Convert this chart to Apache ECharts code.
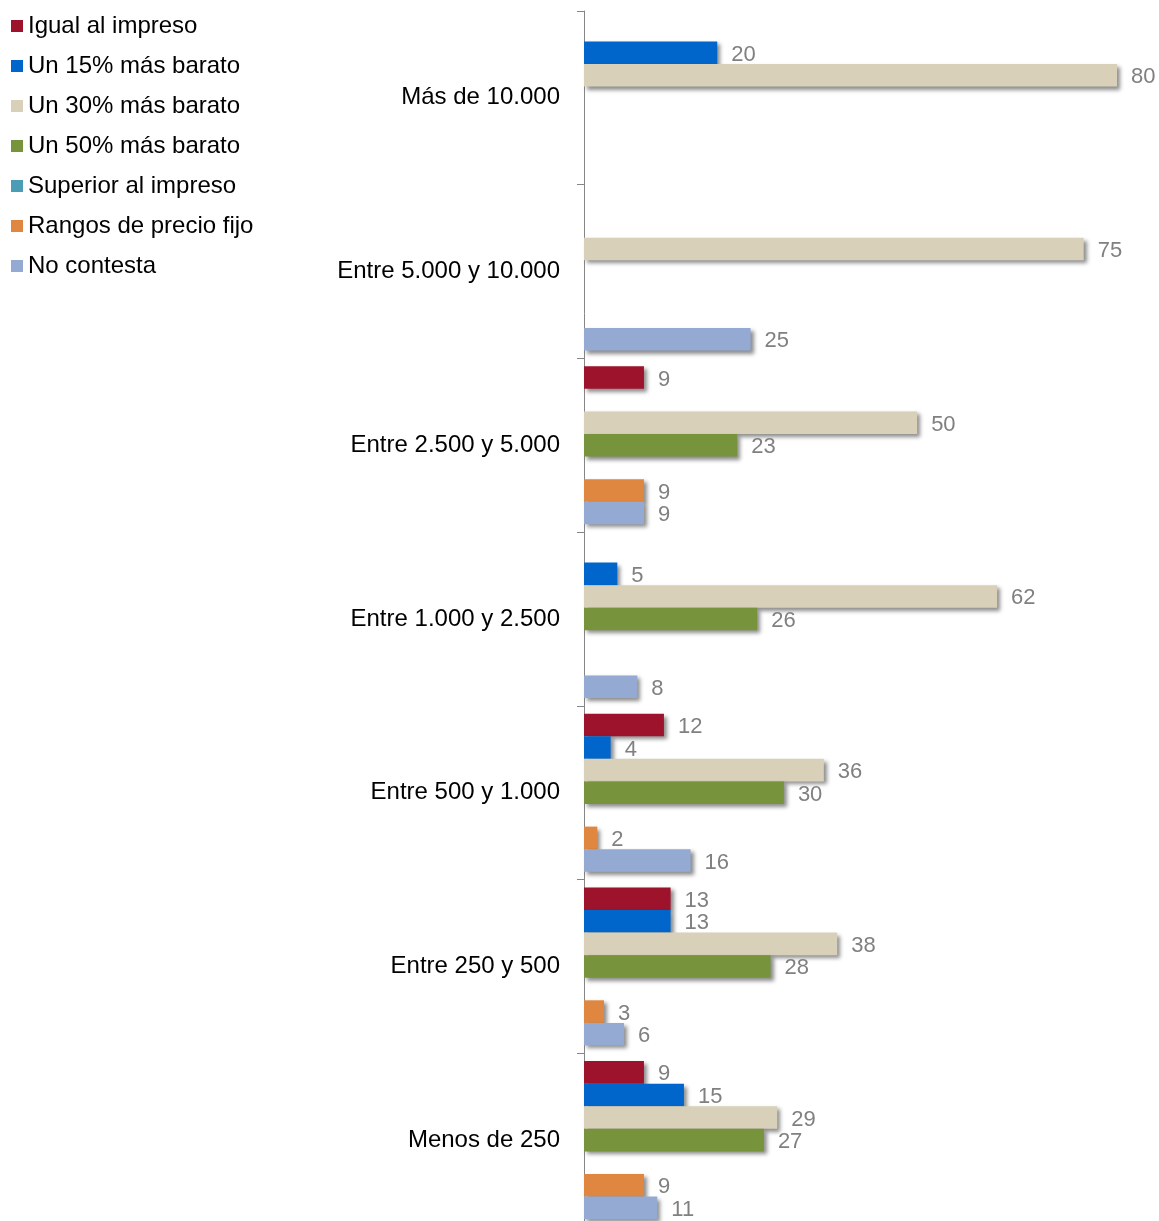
<!DOCTYPE html>
<html>
<head>
<meta charset="utf-8">
<script src="https://cdn.jsdelivr.net/npm/echarts@6/dist/echarts.min.js"></script>
<style>
  html, body { margin: 0; padding: 0; background: #fff; }
  #main { width: 1159px; height: 1221px; }
</style>
</head>
<body>
<div id="main"></div>
<script>
var categories = ['Más de 10.000', 'Entre 5.000 y 10.000', 'Entre 2.500 y 5.000', 'Entre 1.000 y 2.500', 'Entre 500 y 1.000', 'Entre 250 y 500', 'Menos de 250'];
var seriesNames = ['Igual al impreso', 'Un 15% más barato', 'Un 30% más barato', 'Un 50% más barato', 'Superior al impreso', 'Rangos de precio fijo', 'No contesta'];
var seriesColors = ['#9E132C', '#0066CC', '#D8D0B8', '#77933C', '#4A9DB5', '#DF8640', '#95AAD2'];
// '-' = sin dato
var igual = ['-', '-', 9, '-', 12, 13, 9];
var un15 = [20, '-', '-', 5, 4, 13, 15];
var un30 = [80, 75, 50, 62, 36, 38, 29];
var un50 = ['-', '-', 23, 26, 30, 28, 27];
var superior = ['-', '-', '-', '-', '-', '-', '-'];
var rangos = ['-', '-', 9, '-', 2, 3, 9];
var noContesta = ['-', 25, 9, 8, 16, 6, 11];
var allData = [igual, un15, un30, un50, superior, rangos, noContesta];

var chart = echarts.init(document.getElementById('main'));

var series = [];
for (var i = 0; i < seriesNames.length; i++) {
    series.push({
        name: seriesNames[i],
        type: 'bar',
        data: allData[i],
        barGap: '0%',
        barCategoryGap: '9%',
        itemStyle: {
            color: seriesColors[i],
            shadowColor: 'rgba(0,0,0,0.45)',
            shadowBlur: 4,
            shadowOffsetX: 3,
            shadowOffsetY: 3
        },
        label: {
            show: true,
            position: 'right',
            distance: 14,
            offset: [0, 2],
            color: '#808080',
            fontSize: 22,
            fontFamily: 'Liberation Sans'
        }
    });
}

var option = {
    animation: false,
    textStyle: { fontFamily: 'Liberation Sans' },
    legend: {
        orient: 'vertical',
        left: 11,
        top: 14,
        padding: 0,
        itemWidth: 12,
        itemHeight: 12,
        itemGap: 16,
        icon: 'rect',
        data: seriesNames,
        textStyle: { fontSize: 24, color: '#000' }
    },
    grid: { left: 584, width: 533, top: 11, height: 1216, containLabel: false, outerBoundsMode: 'none' },
    xAxis: {
        type: 'value',
        min: 0,
        max: 80,
        show: false
    },
    yAxis: {
        type: 'category',
        inverse: true,
        data: categories,
        axisLine: { show: true, lineStyle: { color: '#868686', width: 1 } },
        axisTick: { show: true, length: 7, lineStyle: { color: '#868686' } },
        axisLabel: { fontSize: 24, color: '#000', margin: 24 },
        splitLine: { show: false }
    },
    series: series
};
chart.setOption(option);
</script>
</body>
</html>
